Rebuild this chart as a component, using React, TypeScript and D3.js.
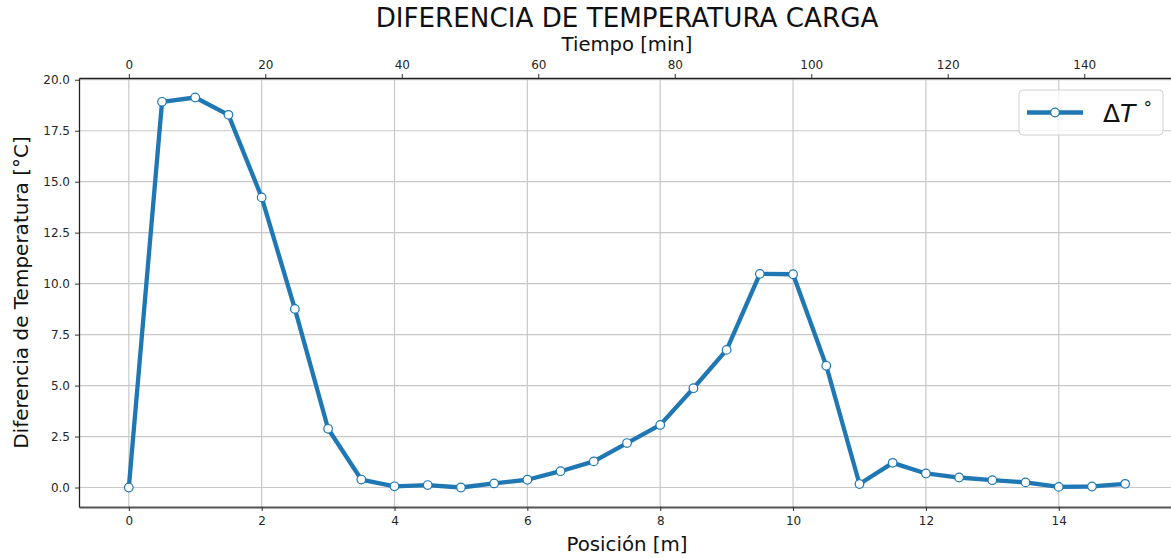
import React, { useEffect, useRef } from "react";
import * as d3 from "d3";

// posición [m] y diferencia de temperatura [°C]
const posicion = [
  0, 0.5, 1, 1.5, 2, 2.5, 3, 3.5, 4, 4.5, 5, 5.5, 6, 6.5, 7, 7.5, 8, 8.5, 9, 9.5,
  10, 10.5, 11, 11.5, 12, 12.5, 13, 13.5, 14, 14.5, 15,
];
const deltaT = [
  0, 18.92, 19.13, 18.28, 14.23, 8.76, 2.88, 0.39, 0.06, 0.12, 0.0, 0.2, 0.38,
  0.8, 1.28, 2.18, 3.07, 4.87, 6.75, 10.48, 10.46, 5.97, 0.17, 1.21, 0.69, 0.49,
  0.36, 0.25, 0.03, 0.05, 0.18,
];
const tiempoMax = 146;
const xTicks = [0, 2, 4, 6, 8, 10, 12, 14];
const yTicks = [0, 2.5, 5, 7.5, 10, 12.5, 15, 17.5, 20];
const topTicks = [0, 20, 40, 60, 80, 100, 120, 140];

const W = 1171;
const H = 558;
const FONT = "DejaVu Sans, sans-serif";
const BLUE = "#1f77b4";

export default function App() {
  const ref = useRef<SVGSVGElement | null>(null);

  useEffect(() => {
    const svg = d3.select(ref.current);
    svg.selectAll("*").remove();

    const margin = { top: 78, right: -4, bottom: 51, left: 79 };
    const x0 = margin.left;
    const x1 = W - margin.right;
    const y0 = H - margin.bottom;
    const y1 = margin.top;

    const xPad = 0.05 * 15;
    const x = d3.scaleLinear().domain([-xPad, 15 + xPad]).range([x0, x1]);
    const yMax = d3.max(deltaT) as number;
    const yPad = 0.05 * yMax;
    const y = d3.scaleLinear().domain([-yPad, yMax + yPad]).range([y0, y1]);
    const tPad = 0.05 * tiempoMax;
    const xt = d3
      .scaleLinear()
      .domain([-tPad, tiempoMax + tPad])
      .range([x0, x1]);

    // grid
    svg
      .append("g")
      .selectAll("line")
      .data(xTicks)
      .join("line")
      .attr("x1", (d) => x(d))
      .attr("x2", (d) => x(d))
      .attr("y1", y0)
      .attr("y2", y1)
      .attr("stroke", "#c8c8c8")
      .attr("stroke-width", 1.2);
    svg
      .append("g")
      .selectAll("line")
      .data(yTicks)
      .join("line")
      .attr("x1", x0)
      .attr("x2", x1)
      .attr("y1", (d) => y(d))
      .attr("y2", (d) => y(d))
      .attr("stroke", "#c8c8c8")
      .attr("stroke-width", 1.2);

    // axes
    const bottom = svg
      .append("g")
      .attr("transform", `translate(0,${y0})`)
      .call(
        d3.axisBottom(x).tickValues(xTicks).tickSize(4).tickSizeOuter(0).tickPadding(5).tickFormat(d3.format("d"))
      );
    const left = svg
      .append("g")
      .attr("transform", `translate(${x0},0)`)
      .call(
        d3.axisLeft(y).tickValues(yTicks).tickSize(4).tickSizeOuter(0).tickPadding(5).tickFormat(d3.format(".1f"))
      );
    const top = svg
      .append("g")
      .attr("transform", `translate(0,${y1})`)
      .call(
        d3.axisTop(xt).tickValues(topTicks).tickSize(4).tickSizeOuter(0).tickPadding(5).tickFormat(d3.format("d"))
      );

    [bottom, left, top].forEach((g) => {
      g.selectAll("text")
        .attr("font-family", FONT)
        .attr("font-size", 12)
        .attr("fill", "#262626");
      g.selectAll(".tick line").attr("stroke", "#333").attr("stroke-width", 1);
      g.select(".domain").attr("stroke", "#222").attr("stroke-width", 1.3);
    });
    bottom.select(".domain").attr("stroke", "#555").attr("stroke-width", 1.8);

    // line
    const pts: [number, number][] = posicion.map((p, i) => [p, deltaT[i]]);
    const line = d3
      .line<[number, number]>()
      .x((d) => x(d[0]))
      .y((d) => y(d[1]));
    svg
      .append("path")
      .datum(pts)
      .attr("fill", "none")
      .attr("stroke", BLUE)
      .attr("stroke-width", 4.3)
      .attr("stroke-linejoin", "round")
      .attr("d", line);
    svg
      .append("g")
      .selectAll("circle")
      .data(pts)
      .join("circle")
      .attr("cx", (d) => x(d[0]))
      .attr("cy", (d) => y(d[1]))
      .attr("r", 4.3)
      .attr("fill", "white")
      .attr("stroke", BLUE)
      .attr("stroke-width", 1.2);

    // labels
    const cx = (x0 + x1) / 2;
    svg
      .append("text")
      .attr("x", cx)
      .attr("y", 27)
      .attr("text-anchor", "middle")
      .attr("font-family", FONT)
      .attr("font-size", 26.2)
      .attr("fill", "#111")
      .text("DIFERENCIA DE TEMPERATURA CARGA");
    svg
      .append("text")
      .attr("x", cx)
      .attr("y", 51)
      .attr("text-anchor", "middle")
      .attr("font-family", FONT)
      .attr("font-size", 19.6)
      .attr("fill", "#111")
      .text("Tiempo [min]");
    svg
      .append("text")
      .attr("x", cx)
      .attr("y", 551)
      .attr("text-anchor", "middle")
      .attr("font-family", FONT)
      .attr("font-size", 19.8)
      .attr("fill", "#111")
      .text("Posición [m]");
    svg
      .append("text")
      .attr("transform", `translate(28,${(y0 + y1) / 2}) rotate(-90)`)
      .attr("text-anchor", "middle")
      .attr("font-family", FONT)
      .attr("font-size", 20)
      .attr("fill", "#111")
      .text("Diferencia de Temperatura [°C]");

    // legend
    const lg = svg.append("g").attr("transform", "translate(1019,90)");
    lg.append("rect")
      .attr("width", 144)
      .attr("height", 45)
      .attr("rx", 4)
      .attr("fill", "white")
      .attr("fill-opacity", 0.8)
      .attr("stroke", "#d0d0d0")
      .attr("stroke-width", 1);
    lg.append("line")
      .attr("x1", 8)
      .attr("x2", 64)
      .attr("y1", 22.5)
      .attr("y2", 22.5)
      .attr("stroke", BLUE)
      .attr("stroke-width", 4.3);
    lg.append("circle")
      .attr("cx", 36)
      .attr("cy", 22.5)
      .attr("r", 4.3)
      .attr("fill", "white")
      .attr("stroke", BLUE)
      .attr("stroke-width", 1.2);
    const t = lg
      .append("text")
      .attr("x", 84)
      .attr("y", 32)
      .attr("font-family", FONT)
      .attr("font-size", 25)
      .attr("fill", "#111");
    t.append("tspan").text("Δ");
    t.append("tspan").attr("font-style", "italic").text("T");
    t.append("tspan").attr("dx", 8).attr("dy", -8).attr("font-size", 17).text("°");
  }, []);

  return (
    <svg
      ref={ref}
      width={W}
      height={H}
      style={{ position: "absolute", left: 0, top: 0, background: "white" }}
    />
  );
}
